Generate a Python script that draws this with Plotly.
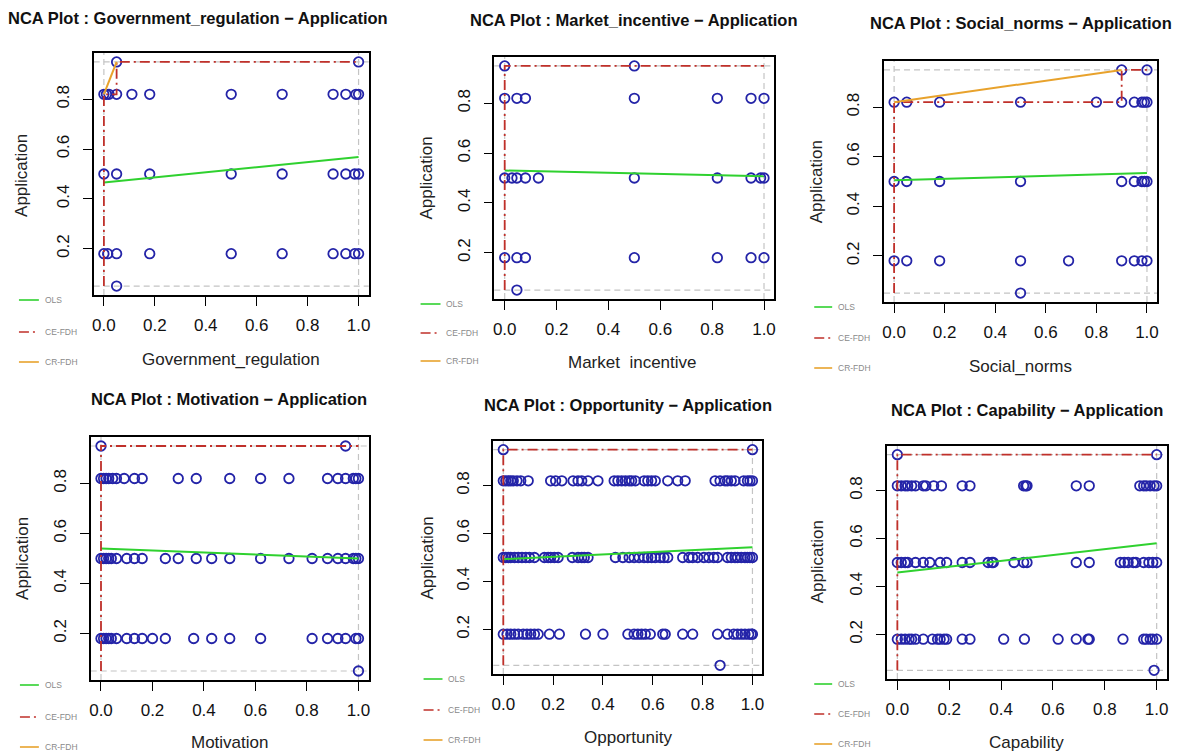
import plotly.graph_objects as go

W, H = 1180, 751

# ---------------- data ----------------
panel_names = ["Government_regulation", "Market_incentive", "Social_norms",
               "Motivation", "Opportunity", "Capability"]
x_titles = ["Government_regulation", "Market  incentive", "Social_norms",
            "Motivation", "Opportunity", "Capability"]
y_title = "Application"
y_levels = [0.05, 0.18, 0.5, 0.82, 0.95]
x_ticks = [0.0, 0.2, 0.4, 0.6, 0.8, 1.0]
y_ticks = [0.2, 0.4, 0.6, 0.8]

# x values of the points at each Application level (0.05, 0.18, 0.5, 0.82, 0.95)
gov_005 = [0.05]
gov_018 = [0.0, 0.015, 0.05, 0.18, 0.5, 0.7, 0.9, 0.95, 0.985, 1.0]
gov_050 = [0.0, 0.05, 0.18, 0.5, 0.7, 0.9, 0.95, 0.985, 1.0]
gov_082 = [0.0, 0.01, 0.02, 0.05, 0.11, 0.18, 0.5, 0.7, 0.9, 0.95, 0.99, 1.0]
gov_095 = [0.05, 1.0]

mkt_005 = [0.047]
mkt_018 = [0.0, 0.047, 0.08, 0.5, 0.82, 0.95, 1.0]
mkt_050 = [0.0, 0.028, 0.047, 0.08, 0.13, 0.5, 0.82, 0.95, 0.987, 1.0]
mkt_082 = [0.0, 0.047, 0.08, 0.5, 0.82, 0.95, 1.0]
mkt_095 = [0.0, 0.5]

soc_005 = [0.5]
soc_018 = [0.0, 0.05, 0.18, 0.5, 0.69, 0.9, 0.95, 0.98, 1.0]
soc_050 = [0.0, 0.05, 0.18, 0.5, 0.9, 0.95, 0.98, 0.99, 1.0]
soc_082 = [0.0, 0.05, 0.18, 0.5, 0.8, 0.9, 0.95, 0.98, 0.99, 1.0]
soc_095 = [0.9, 1.0]

mot_005 = [1.0]
mot_018 = [0.0, 0.01, 0.02, 0.03, 0.04, 0.06, 0.1, 0.13, 0.16, 0.2, 0.25, 0.36,
           0.43, 0.5, 0.62, 0.82, 0.88, 0.92, 0.95, 0.99, 1.0]
mot_050 = [0.0, 0.01, 0.02, 0.03, 0.04, 0.06, 0.1, 0.13, 0.16, 0.25, 0.3, 0.37,
           0.43, 0.5, 0.62, 0.73, 0.82, 0.88, 0.92, 0.95, 0.98, 0.99, 1.0]
mot_082 = [0.0, 0.01, 0.02, 0.03, 0.045, 0.06, 0.09, 0.13, 0.16, 0.3, 0.37, 0.5,
           0.62, 0.73, 0.88, 0.92, 0.95, 0.98, 0.99, 1.0]
mot_095 = [0.0, 0.95]

opp_005 = [0.87]
opp_018 = [0.0, 0.015, 0.03, 0.045, 0.06, 0.08, 0.095, 0.11, 0.125, 0.14, 0.185,
           0.225, 0.33, 0.4, 0.5, 0.525, 0.54, 0.555, 0.57, 0.59, 0.64, 0.65,
           0.72, 0.76, 0.86, 0.9, 0.925, 0.94, 0.955, 0.97, 0.985, 0.995, 1.0]
opp_050 = [0.0, 0.01, 0.02, 0.03, 0.045, 0.06, 0.075, 0.09, 0.105, 0.125, 0.165,
           0.18, 0.19, 0.205, 0.22, 0.277, 0.3, 0.315, 0.325, 0.34, 0.45, 0.48,
           0.505, 0.525, 0.545, 0.565, 0.58, 0.595, 0.61, 0.63, 0.645, 0.66,
           0.72, 0.745, 0.76, 0.78, 0.805, 0.825, 0.845, 0.86, 0.9, 0.915, 0.93,
           0.94, 0.955, 0.97, 0.98, 0.99, 1.0]
opp_082 = [0.0, 0.01, 0.02, 0.03, 0.04, 0.055, 0.07, 0.1, 0.19, 0.21, 0.235,
           0.28, 0.3, 0.315, 0.34, 0.38, 0.445, 0.46, 0.475, 0.49, 0.505, 0.515,
           0.53, 0.565, 0.58, 0.595, 0.61, 0.66, 0.7, 0.73, 0.85, 0.87, 0.89,
           0.9, 0.915, 0.93, 0.965, 0.98, 0.99, 1.0]
opp_095 = [0.0, 1.0]

cap_005 = [0.99]
cap_018 = [0.0, 0.015, 0.03, 0.045, 0.055, 0.07, 0.1, 0.135, 0.155, 0.165, 0.18,
           0.19, 0.25, 0.28, 0.41, 0.49, 0.62, 0.69, 0.735, 0.74, 0.87, 0.95,
           0.96, 0.975, 0.985, 1.0]
cap_050 = [0.0, 0.015, 0.03, 0.04, 0.07, 0.1, 0.125, 0.165, 0.19, 0.25, 0.28,
           0.35, 0.365, 0.37, 0.45, 0.487, 0.5, 0.69, 0.74, 0.86, 0.875, 0.89,
           0.91, 0.92, 0.95, 0.97, 0.985, 1.0]
cap_082 = [0.0, 0.015, 0.03, 0.04, 0.055, 0.07, 0.1, 0.11, 0.14, 0.17, 0.25,
           0.28, 0.487, 0.495, 0.5, 0.69, 0.74, 0.935, 0.95, 0.96, 0.975, 0.99,
           1.0]
cap_095 = [0.0, 1.0]

points = [
    [gov_005, gov_018, gov_050, gov_082, gov_095],
    [mkt_005, mkt_018, mkt_050, mkt_082, mkt_095],
    [soc_005, soc_018, soc_050, soc_082, soc_095],
    [mot_005, mot_018, mot_050, mot_082, mot_095],
    [opp_005, opp_018, opp_050, opp_082, opp_095],
    [cap_005, cap_018, cap_050, cap_082, cap_095],
]

# OLS line values at x = 0 and x = 1
ols_start = [0.466, 0.530, 0.505, 0.540, 0.493, 0.458]
ols_end = [0.568, 0.507, 0.534, 0.500, 0.543, 0.580]

# CE-FDH step ceiling
ce_x = [[0, 0, 0.05, 0.05, 1], [0, 0, 1], [0, 0, 0.9, 0.9, 1],
        [0, 0, 1], [0, 0, 1], [0, 0, 1]]
ce_y = [[0.05, 0.82, 0.82, 0.95, 0.95], [0.05, 0.95, 0.95],
        [0.05, 0.82, 0.82, 0.95, 0.95], [0.05, 0.95, 0.95],
        [0.05, 0.95, 0.95], [0.05, 0.95, 0.95]]

# CR-FDH ceiling
cr_x = [[0, 0.05], [], [0, 0.9], [], [], []]
cr_y = [[0.82, 0.95], [], [0.82, 0.95], [], [], []]

# ---------------- layout geometry (pixels) ----------------
boxes = [  # left, right, top, bottom
    (92, 368, 53, 295), (494, 775, 57, 299), (885, 1159, 61, 302),
    (89, 368, 437, 680), (493, 763, 441, 674), (888, 1169, 446, 679),
]
title_pos = [(197, 18), (634, 20), (1022, 23), (228, 399), (628, 405), (1028, 410)]
xtitle_pos = [(230, 359), (633, 363), (1022, 366), (228, 742), (628, 737), (1028, 742)]
ytitle_pos = [(20, 175), (425, 178), (817, 182), (20, 558), (426, 558), (818, 562)]
legend_pos = [  # x_start, x_end, y_ols, y_ce, y_cr
    (17, 37, 300, 332, 362), (420, 440, 304, 333, 361), (815, 833, 307, 338, 368),
    (18, 37, 685, 717, 747), (423, 442, 679, 710, 740), (815, 833, 684, 714, 744),
]

PT_COLOR = "#2424a8"
OLS_COLOR = "#2fd12f"
CE_COLOR = "#c0302a"
CR_COLOR = "#e8a22c"
SCOPE_COLOR = "#c4c4c4"
CE_DASH = "10px,4px,2px,4px"
FONT = "Liberation Sans, Arial, sans-serif"


def px(x):
    return x / W


def py(y):
    return 1 - y / H


fig = go.Figure()
shapes = []
annotations = []

for i in range(6):
    ax = "" if i == 0 else str(i + 1)
    xa, ya = "x" + ax, "y" + ax
    l, r, t, b = boxes[i]

    # scope (gray dashed)
    ymin, ymax = min(y_levels), max(y_levels)
    for yv in (ymin, ymax):
        shapes.append(dict(type="line", xref=xa + " domain", yref=ya, x0=0, x1=1,
                           y0=yv, y1=yv, line=dict(color=SCOPE_COLOR, width=1.2, dash="6px,4px"),
                           layer="below"))
    for xv in (0.0, 1.0):
        shapes.append(dict(type="line", xref=xa, yref=ya + " domain", x0=xv, x1=xv,
                           y0=0, y1=1, line=dict(color=SCOPE_COLOR, width=1.2, dash="6px,4px"),
                           layer="below"))

    # points
    px_list, py_list = [], []
    for lv, xs in zip(y_levels, points[i]):
        px_list += xs
        py_list += [lv] * len(xs)
    fig.add_trace(go.Scatter(x=px_list, y=py_list, mode="markers", xaxis=xa, yaxis=ya,
                             marker=dict(symbol="circle-open", size=9.5, color=PT_COLOR,
                                         line=dict(width=1.8, color=PT_COLOR)),
                             showlegend=False, hoverinfo="x+y"))
    # OLS
    fig.add_trace(go.Scatter(x=[0, 1], y=[ols_start[i], ols_end[i]], mode="lines",
                             xaxis=xa, yaxis=ya, line=dict(color=OLS_COLOR, width=2),
                             showlegend=False))
    # CE-FDH
    fig.add_trace(go.Scatter(x=ce_x[i], y=ce_y[i], mode="lines", xaxis=xa, yaxis=ya,
                             line=dict(color=CE_COLOR, width=1.8, dash=CE_DASH),
                             showlegend=False))
    # CR-FDH
    if cr_x[i]:
        fig.add_trace(go.Scatter(x=cr_x[i], y=cr_y[i], mode="lines", xaxis=xa, yaxis=ya,
                                 line=dict(color=CR_COLOR, width=2), showlegend=False))

    axis_common = dict(showline=True, mirror=True, linecolor="black", linewidth=1.6,
                       showgrid=False, zeroline=False, ticks="outside", ticklen=9,
                       tickwidth=1.4, tickcolor="black",
                       tickfont=dict(family=FONT, size=17, color="#111"))
    fig.layout["xaxis" + ax] = dict(domain=[px(l), px(r)], range=[-0.04, 1.04],
                                    anchor=ya, tickvals=x_ticks,
                                    ticktext=[f"{v:.1f}" for v in x_ticks],
                                    ticklabelstandoff=5, **axis_common)
    fig.layout["yaxis" + ax] = dict(domain=[py(b), py(t)], range=[0.014, 0.986],
                                    anchor=xa, tickvals=y_ticks,
                                    ticktext=[f"{v:.1f}" for v in y_ticks],
                                    tickangle=-90, ticklabelstandoff=7, **axis_common)

    # titles
    tx, ty = title_pos[i]
    annotations.append(dict(text=f"<b>NCA Plot : {panel_names[i]} \u2212 Application</b>",
                            x=px(tx), y=py(ty), xref="paper", yref="paper",
                            showarrow=False, xanchor="center", yanchor="middle",
                            font=dict(family=FONT, size=16.5, color="#111")))
    xx, xy = xtitle_pos[i]
    annotations.append(dict(text=x_titles[i], x=px(xx), y=py(xy), xref="paper",
                            yref="paper", showarrow=False, xanchor="center",
                            yanchor="middle", font=dict(family=FONT, size=17, color="#222")))
    yx, yy = ytitle_pos[i]
    annotations.append(dict(text=y_title, x=px(yx), y=py(yy), xref="paper",
                            yref="paper", showarrow=False, xanchor="center",
                            yanchor="middle", textangle=-90,
                            font=dict(family=FONT, size=17, color="#222")))

    # legend
    lx0, lx1, y1, y2, y3 = legend_pos[i]
    for yy_, col, dash, lab in ((y1, OLS_COLOR, "solid", "OLS"),
                                (y2, CE_COLOR, CE_DASH, "CE-FDH"),
                                (y3, CR_COLOR, "solid", "CR-FDH")):
        shapes.append(dict(type="line", xref="paper", yref="paper", x0=px(lx0),
                           x1=px(lx1), y0=py(yy_), y1=py(yy_),
                           line=dict(color=col, width=1.6, dash=dash)))
        annotations.append(dict(text=lab, x=px(lx1 + 4), y=py(yy_), xref="paper",
                                yref="paper", showarrow=False, xanchor="left",
                                yanchor="middle",
                                font=dict(family=FONT, size=8.5, color="#8a8a8a")))

fig.update_layout(width=W, height=H, margin=dict(l=0, r=0, t=0, b=0),
                  paper_bgcolor="white", plot_bgcolor="white",
                  shapes=shapes, annotations=annotations, showlegend=False)

fig.write_html("out.html", config={"displayModeBar": False},
               post_script="document.body.style.margin='0';document.body.style.overflow='hidden';")
